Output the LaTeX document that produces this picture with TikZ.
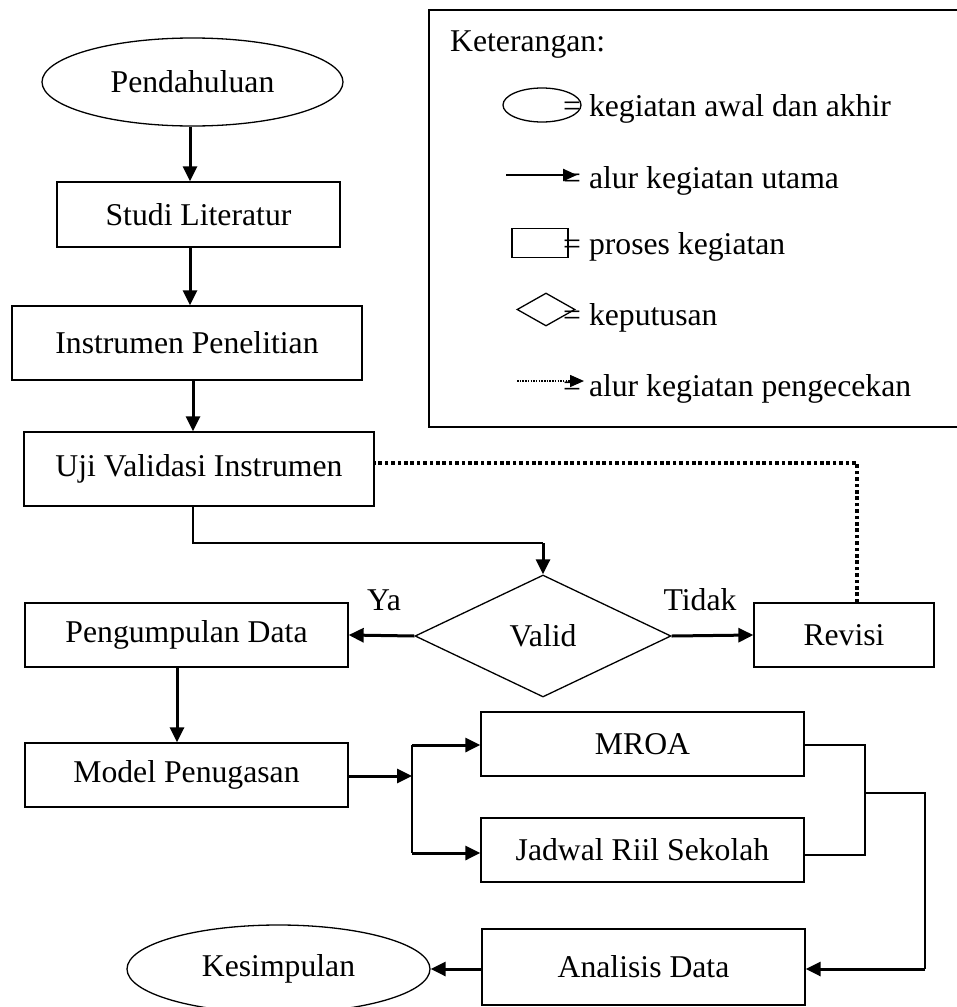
\documentclass[tikz,border=0pt]{standalone}
\usepackage{fontspec}
\setmainfont{Liberation Serif}
\usetikzlibrary{shapes.geometric,arrows.meta}
\begin{document}
\begin{tikzpicture}[x=1pt,y=-1pt,
  every node/.style={font=\fontsize{31.7}{38}\selectfont},
  box/.style={draw, line width=1.3pt, rectangle, inner sep=0pt},
  oval/.style={draw, line width=1.3pt, ellipse, inner sep=0pt},
  dec/.style={draw, line width=1.3pt, diamond, inner sep=0pt},
  arr/.style={line width=3pt, -{Triangle[length=15pt,width=14pt]}},
  conn/.style={line width=2.2pt},
  dots/.style={line width=3.8pt, dash pattern=on 3.6pt off 2.8pt},
  legdots/.style={line width=1.6pt, dash pattern=on 1.5pt off 1.2pt, -{Triangle[length=14pt,width=12pt]}},
  legarr/.style={line width=2.4pt, -{Triangle[length=14pt,width=12pt]}},
  lbl/.style={anchor=base west, inner sep=0pt}]
\useasboundingbox (0,0) rectangle (957,1007);
\fill[white] (0,0) rectangle (957,1007);

% main nodes
\node[oval, minimum width=301pt, minimum height=88pt] (pend) at (192.5,82) {Pendahuluan};
\node[box, minimum width=283pt, minimum height=65pt] (studi) at (198.5,214.5) {Studi Literatur};
\node[box, minimum width=350pt, minimum height=74pt] (instr) at (187,343) {Instrumen Penelitian};
\node[box, minimum width=350pt, minimum height=74pt] (uji) at (199,469) {Uji Validasi Instrumen};
\node[dec, minimum width=256pt, minimum height=122pt] (valid) at (543,636) {\raisebox{-3pt}{Valid}};
\node[box, minimum width=323pt, minimum height=64pt] (pengum) at (186.5,635) {Pengumpulan Data};
\node[box, minimum width=180pt, minimum height=64pt] (revisi) at (844,635) {Revisi};
\node[box, minimum width=323pt, minimum height=64pt] (model) at (186.5,775) {Model Penugasan};
\node[box, minimum width=323pt, minimum height=64pt] (mroa) at (642.5,744) {MROA};
\node[box, minimum width=323pt, minimum height=64pt] (jadwal) at (642.5,850) {Jadwal Riil Sekolah};
\node[box, minimum width=323pt, minimum height=76pt] (anal) at (643.5,967) {Analisis Data};
\node[oval, minimum width=303pt, minimum height=88pt] (kesim) at (278.5,969) {Kesimpulan};
\node (ya) at (384,600) {Ya};
\node (tidak) at (700,600) {Tidak};

% connectors
\coordinate (c1) at (190,0);
\draw[arr] (c1 |- pend.south) -- (c1 |- studi.north);
\draw[arr] (c1 |- studi.south) -- (c1 |- instr.north);
\coordinate (c2) at (193,0);
\draw[arr] (c2 |- instr.south) -- (c2 |- uji.north);
\coordinate (j1) at (543,543);
\draw[conn] (c2 |- uji.south) |- (j1);
\draw[arr] (j1) -- (valid.north);
\draw[arr] (valid.west) -- (pengum.east);
\draw[arr] (valid.east) -- (revisi.west);
\coordinate (d1) at (857,463);
\draw[dots] (revisi.north -| d1) -- (d1) -- (uji.east |- d1);
\coordinate (c3) at (177,0);
\draw[arr] (c3 |- pengum.south) -- (c3 |- model.north);
\coordinate (jl) at (412,776);
\coordinate (jt) at (412,745);
\coordinate (jb) at (412,853);
\draw[arr] (model.east |- jl) -- (jl);
\draw[conn] (jt) -- (jb);
\draw[arr] (jt) -- (jt -| mroa.west);
\draw[arr] (jb) -- (jb -| jadwal.west);
\coordinate (rt) at (865,745);
\coordinate (rb) at (865,855);
\coordinate (rm) at (865,793);
\coordinate (rr) at (925,969);
\draw[conn] (mroa.east |- rt) -- (rt) -- (rb) -- (jadwal.east |- rb);
\draw[conn] (rm) -| (rr);
\draw[arr] (rr) -- (rr -| anal.east);
\draw[arr] (anal.west |- rr) -- (kesim.east);

% legend
\draw[line width=2.2pt] (960,10) -- (429,10) -- (429,427) -- (960,427);
\node[lbl] (ket) at (450,51) {Keterangan:};
\node[lbl] (t1) at (563,116) {= kegiatan awal dan akhir};
\node[lbl] (t2) at (563,188) {= alur kegiatan utama};
\node[lbl] (t3) at (563,254) {= proses kegiatan};
\node[lbl] (t4) at (563,325) {= keputusan};
\node[lbl] (t5) at (563,396) {= alur kegiatan pengecekan};
\node[oval, minimum width=78pt, minimum height=34pt] (s1) at (542,105) {};
\coordinate (a1) at (506,175);
\coordinate (a2) at (577,175);
\draw[legarr] (a1) -- (a2);
\node[box, minimum width=56pt, minimum height=29pt] (s3) at (540,243) {};
\node[dec, minimum width=58pt, minimum height=33pt] (s4) at (546,309.5) {};
\coordinate (b1) at (517,381);
\coordinate (b2) at (584,381);
\draw[legdots] (b1) -- (b2);
\end{tikzpicture}
\end{document}
